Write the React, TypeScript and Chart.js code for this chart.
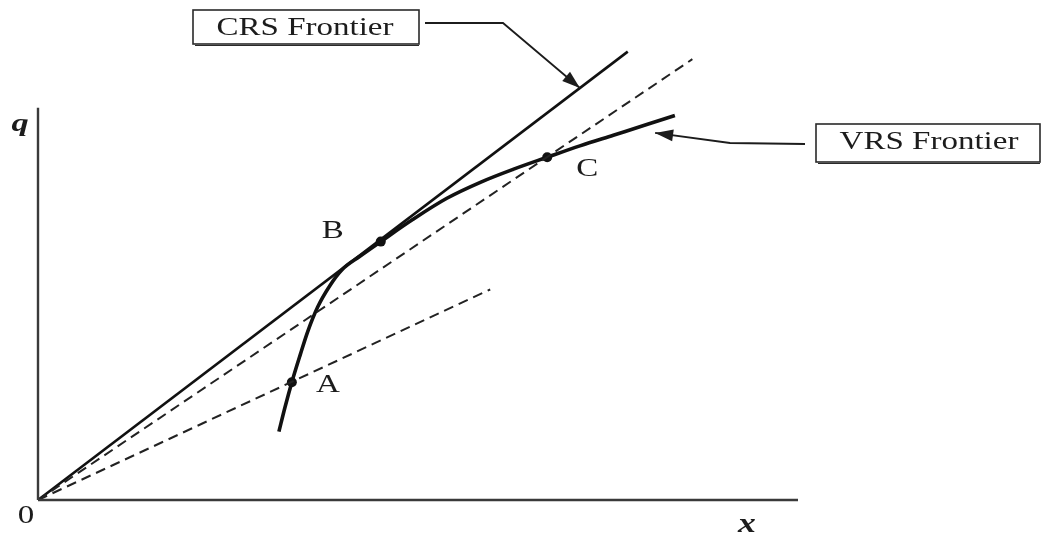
import React, { useEffect, useRef } from "react";
import { Chart, registerables } from "chart.js";

Chart.register(...registerables);

// VRS frontier (input x, output q)
const vrsX = [3.17, 3.25, 3.34, 3.45, 3.55, 3.68, 3.84, 4.0, 4.24, 4.51, 4.93, 5.38, 5.82, 6.25, 6.70, 7.13, 7.57, 8.01, 8.38];
const vrsQ = [0.9, 1.22, 1.55, 1.91, 2.22, 2.54, 2.82, 3.03, 3.21, 3.40, 3.69, 3.97, 4.18, 4.35, 4.51, 4.66, 4.8, 4.94, 5.06];

// Labelled firms on the VRS frontier
const firmNames = ["A", "B", "C"];
const firmX = [3.34, 4.51, 6.70];
const firmQ = [1.55, 3.40, 4.51];

// CRS frontier: ray from the origin tangent at B
const crsX = [0, 7.76];
const crsQ = [0, 5.90];

// Dashed rays from the origin through A and through C
const rayAX = [0, 5.95];
const rayAQ = [0, 2.77];
const rayCX = [0, 8.61];
const rayCQ = [0, 5.80];

// Axis extents
const axisX = [0, 10];
const axisQ = [0, 5.16];

const toPts = (xs: number[], ys: number[]) => xs.map((x, i) => ({ x, y: ys[i] }));

const SERIF = '"Liberation Serif", "Times New Roman", serif';
const STRETCH = 1.32;
const INK = "#1c1c1c";

function stretchedText(ctx: CanvasRenderingContext2D, text: string, cx: number, base: number, font: string) {
  ctx.save();
  ctx.font = font;
  ctx.fillStyle = INK;
  ctx.textAlign = "center";
  ctx.textBaseline = "alphabetic";
  ctx.translate(cx, base);
  ctx.scale(STRETCH, 1);
  ctx.fillText(text, 0, 0);
  ctx.restore();
}

function arrowHead(ctx: CanvasRenderingContext2D, fx: number, fy: number, tx: number, ty: number) {
  const ang = Math.atan2(ty - fy, tx - fx);
  const len = 18;
  const half = 6;
  ctx.save();
  ctx.translate(tx, ty);
  ctx.rotate(ang);
  ctx.beginPath();
  ctx.moveTo(0, 0);
  ctx.lineTo(-len, -half);
  ctx.lineTo(-len, half);
  ctx.closePath();
  ctx.fillStyle = INK;
  ctx.fill();
  ctx.restore();
}

function box(ctx: CanvasRenderingContext2D, l: number, t: number, r: number, b: number) {
  ctx.save();
  ctx.strokeStyle = "#2a2a2a";
  ctx.lineWidth = 1.6;
  ctx.strokeRect(l, t, r - l, b - t);
  ctx.lineWidth = 1.2;
  ctx.beginPath();
  ctx.moveTo(l + 2, b + 1.5);
  ctx.lineTo(r, b + 1.5);
  ctx.stroke();
  ctx.restore();
}

const annotations = {
  id: "frontierAnnotations",
  afterDatasetsDraw(chart: any) {
    const ctx: CanvasRenderingContext2D = chart.ctx;
    const xs = chart.scales.x;
    const ys = chart.scales.y;
    const px = (v: number) => xs.getPixelForValue(v);
    const py = (v: number) => ys.getPixelForValue(v);
    const font = `25px ${SERIF}`;

    // firm labels
    const offs = [
      [36, 10],
      [-48, -4],
      [40, 19],
    ];
    firmNames.forEach((n, i) => {
      stretchedText(ctx, n, px(firmX[i]) + offs[i][0], py(firmQ[i]) + offs[i][1], font);
    });

    // axis labels
    const ox = px(0);
    const oy = py(0);
    stretchedText(ctx, "0", ox - 12, oy + 23, font);
    stretchedText(ctx, "q", ox - 18, py(axisQ[1]) + 23, `italic bold 26px ${SERIF}`);
    stretchedText(ctx, "x", px(axisX[1]) - 51, oy + 32, `italic bold 27px ${SERIF}`);

    // CRS callout
    box(ctx, 193, 10, 419, 44);
    stretchedText(ctx, "CRS Frontier", 305, 35, font);
    const crsTipX = px(7.13);
    const crsTipY = py((7.13 * crsQ[1]) / crsX[1]);
    ctx.save();
    ctx.strokeStyle = INK;
    ctx.lineWidth = 1.8;
    ctx.beginPath();
    ctx.moveTo(425, 23);
    ctx.lineTo(503, 23);
    ctx.lineTo(crsTipX, crsTipY);
    ctx.stroke();
    ctx.restore();
    arrowHead(ctx, 503, 23, crsTipX, crsTipY);

    // VRS callout
    box(ctx, 816, 124, 1040, 162);
    stretchedText(ctx, "VRS Frontier", 929, 149, font);
    const vrsTipX = px(8.12);
    const vrsTipY = py(4.83);
    ctx.save();
    ctx.strokeStyle = INK;
    ctx.lineWidth = 1.8;
    ctx.beginPath();
    ctx.moveTo(805, 144);
    ctx.lineTo(730, 143);
    ctx.lineTo(vrsTipX, vrsTipY);
    ctx.stroke();
    ctx.restore();
    arrowHead(ctx, 730, 143, vrsTipX, vrsTipY);
  },
};

export default function App() {
  const ref = useRef<HTMLCanvasElement | null>(null);

  useEffect(() => {
    if (!ref.current) return;
    const line = (data: any[], width: number, color: string, dash: number[] = []) => ({
      data,
      showLine: true,
      borderColor: color,
      borderWidth: width,
      borderDash: dash,
      pointRadius: 0,
      fill: false,
      clip: false as any,
      borderCapStyle: "butt" as const,
    });

    const chart = new Chart(ref.current, {
      type: "scatter",
      data: {
        datasets: [
          line(toPts([0, 0], axisQ), 2.4, "#3a3a3a"),
          line(toPts(axisX, [0, 0]), 2.4, "#3a3a3a"),
          line(toPts(rayAX, rayAQ), 2, "#222", [10, 6]),
          line(toPts(rayCX, rayCQ), 2, "#222", [10, 6]),
          line(toPts(crsX, crsQ), 2.6, "#111"),
          {
            ...line(toPts(vrsX, vrsQ), 3.6, "#111"),
            cubicInterpolationMode: "monotone" as const,
          },
          {
            data: toPts(firmX, firmQ),
            showLine: false,
            pointRadius: 5,
            pointBackgroundColor: "#111",
            pointBorderColor: "#111",
            pointBorderWidth: 0,
            clip: false as any,
          },
        ],
      },
      options: {
        responsive: false,
        animation: false,
        events: [],
        layout: { padding: { left: 38, right: 247, top: 6, bottom: 35 } },
        plugins: { legend: { display: false }, tooltip: { enabled: false } },
        scales: {
          x: { type: "linear", min: 0, max: 10, display: false },
          y: { type: "linear", min: 0, max: 6.5, display: false },
        },
      },
      plugins: [annotations],
    });
    return () => chart.destroy();
  }, []);

  return (
    <div style={{ position: "fixed", left: 0, top: 0, width: 1045, height: 535, background: "#fff" }}>
      <canvas ref={ref} width={1045} height={535} style={{ display: "block" }} />
    </div>
  );
}
